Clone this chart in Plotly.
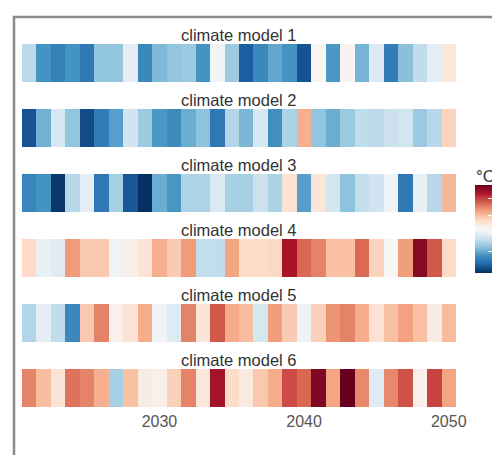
import plotly.graph_objects as go

years = list(range(2021, 2051))
model_names = ["climate model 1", "climate model 2", "climate model 3",
               "climate model 4", "climate model 5", "climate model 6"]

model1 = [-0.27, -0.60, -0.68, -0.60, -0.72, -0.40, -0.40, -0.10, -0.65, -0.45,
          -0.40, -0.37, -0.60, -0.03, -0.37, -0.83, -0.65, -0.52, -0.60, -0.87,
          0.02, -0.58, 0.03, -0.47, -0.15, -0.70, -0.42, -0.25, -0.10, 0.12]
model2 = [-0.87, -0.48, -0.18, -0.40, -0.90, -0.70, -0.55, -0.20, -0.37, -0.58,
          -0.64, -0.50, -0.41, -0.72, -0.30, -0.46, -0.17, -0.62, -0.32, 0.36,
          -0.40, -0.50, -0.37, -0.25, -0.27, -0.22, -0.19, -0.37, -0.28, 0.23]
model3 = [-0.66, -0.60, -0.97, -0.28, -0.10, -0.72, -0.34, -0.86, -1.00, -0.50,
          -0.59, -0.31, -0.31, -0.15, -0.33, -0.33, -0.22, -0.32, 0.15, -0.55,
          0.13, -0.19, -0.41, -0.24, -0.20, -0.05, -0.72, -0.08, -0.28, 0.33]
model4 = [0.20, -0.07, -0.12, 0.43, 0.27, 0.27, -0.05, 0.06, 0.14, 0.36,
          0.26, 0.43, -0.24, -0.25, 0.40, 0.19, 0.19, 0.21, 0.83, 0.58,
          0.50, 0.30, 0.30, 0.57, 0.23, 0.01, 0.42, 0.92, 0.62, 0.20]
model5 = [-0.30, -0.10, -0.25, -0.65, 0.27, 0.50, 0.05, 0.14, 0.37, -0.03,
          -0.13, 0.50, 0.13, 0.62, 0.38, 0.31, -0.18, 0.42, 0.26, -0.05,
          0.24, 0.45, 0.50, 0.37, 0.15, 0.30, 0.41, 0.30, 0.08, 0.32]
model6 = [0.50, 0.31, 0.13, 0.55, 0.50, 0.36, -0.34, 0.30, 0.08, 0.05,
          0.24, 0.50, 0.11, 0.84, 0.19, 0.10, 0.27, 0.37, 0.66, 0.58,
          0.94, 0.40, 1.00, 0.48, -0.12, 0.48, 0.64, 0.05, 0.68, 0.40]
models = [model1, model2, model3, model4, model5, model6]

x_ticks = [2030, 2040, 2050]
cbar_ticks = [-0.5, -0.1, 0.3, 0.7]
cbar_title = "°C"

rdbu_r = ["#053061", "#2166ac", "#4393c3", "#92c5de", "#d1e5f0", "#f7f7f7",
          "#fddbc7", "#f4a582", "#d6604d", "#b2182b", "#67001f"]
colorscale = [[i / 10, c] for i, c in enumerate(rdbu_r)]

# The page places the figure 8px from the top-left corner of the window.
OFF = 8
W, H = 500 - OFF, 455 - OFF
L, R, T, B = 22 - OFF, 500 - 456, 44 - OFF, 455 - 407
PW, PH = W - L - R, H - T - B
STRIP, PITCH = 38, 65

def px2x(p):
    p -= OFF
    return (p - L) / PW

def px2y(p):
    p -= OFF
    return (H - B - p) / PH

fig = go.Figure()
layout = {}
annotations = []
for i, (name, vals) in enumerate(zip(model_names, models)):
    n = i + 1
    xa = "x" if n == 1 else f"x{n}"
    ya = "y" if n == 1 else f"y{n}"
    top = 44 + PITCH * i
    bot = top + STRIP
    fig.add_trace(go.Heatmap(z=[vals], x=years, y=[0], coloraxis="coloraxis",
                             xaxis=xa, yaxis=ya, xgap=0, ygap=0))
    layout["xaxis" if n == 1 else f"xaxis{n}"] = dict(
        domain=[0, 1], anchor=ya, range=[2020.5, 2050.5],
        tickvals=x_ticks, showticklabels=(n == 6), showgrid=False,
        zeroline=False, showline=False, ticks="", ticklabelstandoff=3,
        tickfont=dict(family="Liberation Sans, Arial", size=16, color="#555555"))
    layout["yaxis" if n == 1 else f"yaxis{n}"] = dict(
        domain=[px2y(bot), px2y(top)], anchor=xa, range=[-0.5, 0.5],
        visible=False, fixedrange=True)
    annotations.append(dict(text=name, xref="paper", yref="paper",
                            x=0.5, y=px2y(top), xanchor="center", yanchor="bottom",
                            yshift=-2, showarrow=False,
                            font=dict(family="Liberation Sans, Arial", size=16.5,
                                      color="#333333")))

annotations.append(dict(text=cbar_title, xref="paper", yref="paper",
                        x=px2x(474), y=px2y(185), xanchor="left", yanchor="bottom",
                        yshift=-3, showarrow=False,
                        font=dict(family="Liberation Sans, Arial", size=17,
                                  color="#333333")))

shapes = [
    dict(type="rect", xref="paper", yref="paper",
         x0=px2x(14), x1=px2x(530), y0=px2y(490), y1=px2y(17),
         line=dict(color="#8c8c8c", width=2.5), fillcolor="rgba(0,0,0,0)", layer="below"),
]

fig.update_layout(
    **layout,
    width=W, height=H,
    margin=dict(l=L, r=R, t=T, b=B, pad=0, autoexpand=False),
    paper_bgcolor="white", plot_bgcolor="white",
    annotations=annotations, shapes=shapes,
    coloraxis=dict(
        colorscale=colorscale, cmin=-1, cmax=1,
        colorbar=dict(
            x=px2x(475), xanchor="left", xref="paper",
            y=px2y(273), yanchor="bottom", yref="paper",
            thickness=18, thicknessmode="pixels",
            len=88, lenmode="pixels",
            xpad=0, ypad=0,
            outlinewidth=0,
            tickvals=cbar_ticks, ticks="inside", ticklen=5, tickcolor="white",
            showticklabels=False,
        ),
    ),
)

fig.write_html("out.html")
